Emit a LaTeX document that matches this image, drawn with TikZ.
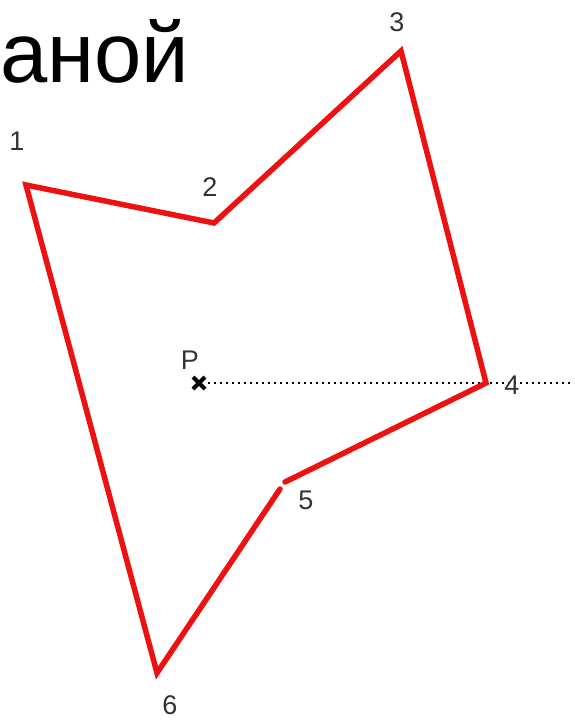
\documentclass[tikz,border=0pt]{standalone}
\usepackage{fontspec}
\setmainfont{Liberation Sans}
\usepackage{xcolor}
\definecolor{edgered}{HTML}{EE1111}
\definecolor{lblgray}{HTML}{333333}
\usepackage{tikz}
\usetikzlibrary{positioning}
\tikzset{
  poly/.style ={draw=edgered, line width=5.5pt, line cap=round, line join=miter},
  vlbl/.style ={font=\fontsize{27}{27}\selectfont, text=lblgray, inner sep=0pt},
  title/.style={font=\fontsize{85}{85}\selectfont, text=black, inner sep=0pt},
  ray/.style  ={draw=black, line width=2.4pt, dash pattern=on 2.4pt off 3.6pt},
  cross/.style={draw=black, line width=4pt},
}

\begin{document}
\begin{tikzpicture}[x=1pt, y=-1pt]
  \useasboundingbox (0,0) rectangle (574,721);
  % heading fragment
  \node[title, anchor=base west] (head) at (0,82) {аной};
  % polygon vertices
  \coordinate (v1) at (26,185);
  \coordinate (v2) at (214,223);
  \coordinate (v3) at (401,51);
  \coordinate (v4) at (486,383);
  \coordinate (v5) at (285,482);
  \coordinate (v5b) at (280,489);
  \coordinate (v6) at (157,673);
  \coordinate (p) at (199,383);
  \coordinate (rayend) at (574,383);
  % ray from P
  \draw[ray] ([xshift=9pt]p) -- (rayend);
  % edges
  \draw[poly] (v5b) -- (v6) -- (v1) -- (v2) -- (v3) -- (v4) -- (v5);
  % point P
  \draw[cross] ([shift={(-6,-6)}]p) -- ([shift={(6,6)}]p);
  \draw[cross] ([shift={(-6,6)}]p) -- ([shift={(6,-6)}]p);
  \node[vlbl] (lp) at (190,360) {P};
  % vertex labels
  \node[vlbl] (l1) at (17,141) {1};
  \node[vlbl] (l2) at (210,187) {2};
  \node[vlbl] (l3) at (397,22) {3};
  \node[vlbl] (l4) at (512,385) {4};
  \node[vlbl] (l5) at (306,500) {5};
  \node[vlbl] (l6) at (170,705) {6};
\end{tikzpicture}
\end{document}
